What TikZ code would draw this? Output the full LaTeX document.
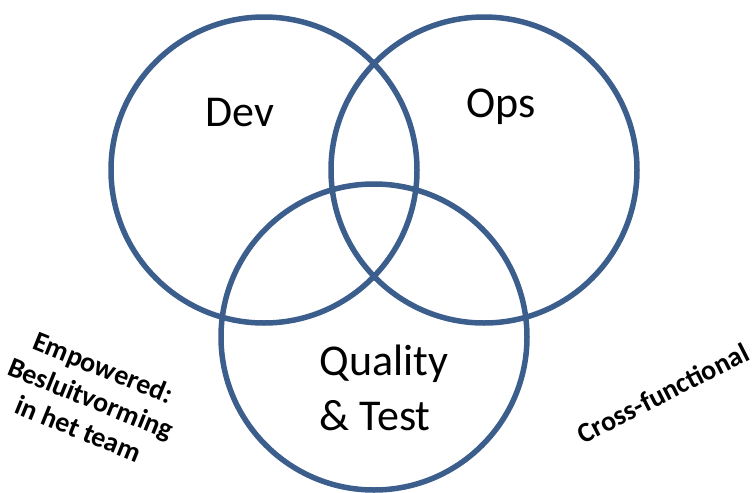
\documentclass[tikz,border=0pt]{standalone}
\usepackage{fontspec}
\setmainfont{Carlito}
\definecolor{ringblue}{HTML}{3B5E8D}
\begin{document}
\begin{tikzpicture}[x=1pt,y=-1pt,
  ring/.style={draw=ringblue,line width=5.5pt,circle,minimum size=306pt,inner sep=0pt},
  biglabel/.style={font=\fontsize{44}{55}\selectfont},
  sidelabel/.style={font=\bfseries\fontsize{28}{33}\selectfont,align=center}]
\useasboundingbox (0,0) rectangle (753,493);
\node[ring] (dev) at (264,170) {};
\node[ring] (ops) at (484,170) {};
\node[ring] (qt) at (374,337) {};
\node[biglabel] (devl) at (240,113) {Dev};
\node[biglabel] (opsl) at (501,107) {Ops};
\node[biglabel,align=left] (qtl) at (384,388) {Quality\\\& Test};
\node[sidelabel,rotate=-22] (emp) at (91,398) {Empowered:\\Besluitvorming\\in het team};
\node[sidelabel,rotate=27] (cf) at (663,393) {Cross-functional};
\end{tikzpicture}
\end{document}
